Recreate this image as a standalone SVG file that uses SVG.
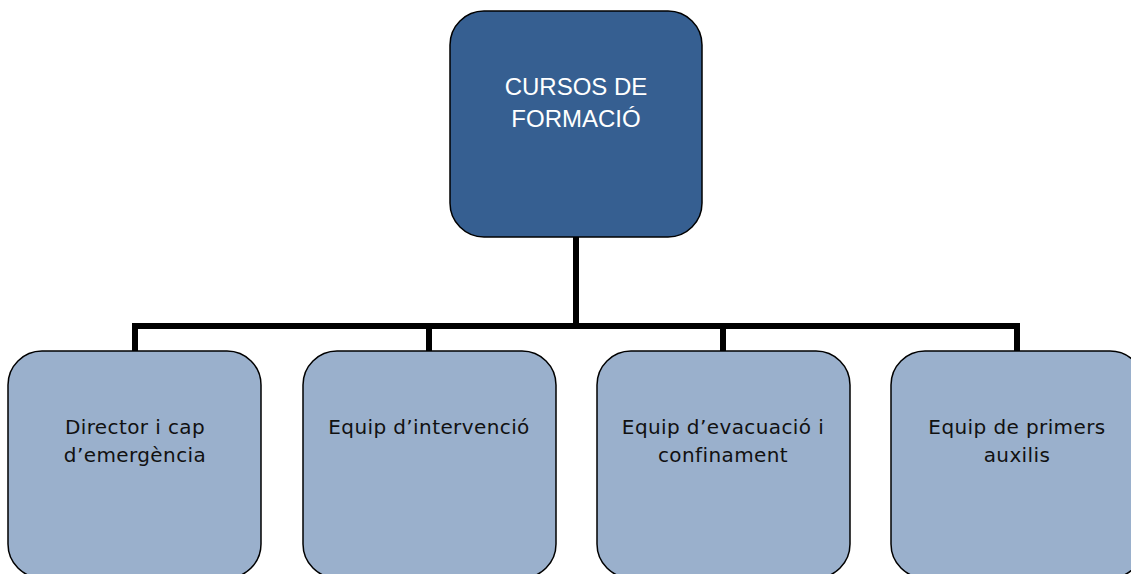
<svg xmlns="http://www.w3.org/2000/svg" width="1131" height="574" viewBox="0 0 1131 574">
<style>
.top{fill:#365F91;stroke:#000;stroke-width:1.5}
.sub{fill:#9AB0CC;stroke:#000;stroke-width:1.5}
.tt{font-family:"Liberation Sans",Arial,sans-serif;font-size:24px;fill:#fff;text-anchor:middle}
.st{font-family:"DejaVu Sans",Verdana,sans-serif;font-size:20px;letter-spacing:0.4px;fill:#111;text-anchor:middle}
.conn{fill:none;stroke:#000;stroke-width:6}
</style>
<rect width="1131" height="574" fill="#fff"/>
<g id="connectors">
<path class="conn" d="M576 237V326M132 326H1020M135 326V351M429 326V351M723 326V351M1017 326V351"/>
</g>
<g id="cursos">
<rect class="top" x="450" y="11" width="252" height="226" rx="34"/>
<text class="tt" x="576" y="95">CURSOS DE</text>
<text class="tt" x="576" y="127">FORMACIÓ</text>
</g>
<g id="director">
<rect class="sub" x="8" y="351" width="253" height="227" rx="34"/>
<text class="st" x="135" y="434">Director i cap</text>
<text class="st" x="135" y="462">d’emergència</text>
</g>
<g id="intervencio">
<rect class="sub" x="303" y="351" width="253" height="227" rx="34"/>
<text class="st" x="429" y="434">Equip d’intervenció</text>
</g>
<g id="evacuacio">
<rect class="sub" x="597" y="351" width="253" height="227" rx="34"/>
<text class="st" x="723" y="434">Equip d’evacuació i</text>
<text class="st" x="723" y="462">confinament</text>
</g>
<g id="primers">
<rect class="sub" x="891" y="351" width="253" height="227" rx="34"/>
<text class="st" x="1017" y="434">Equip de primers</text>
<text class="st" x="1017" y="462">auxilis</text>
</g>
</svg>
